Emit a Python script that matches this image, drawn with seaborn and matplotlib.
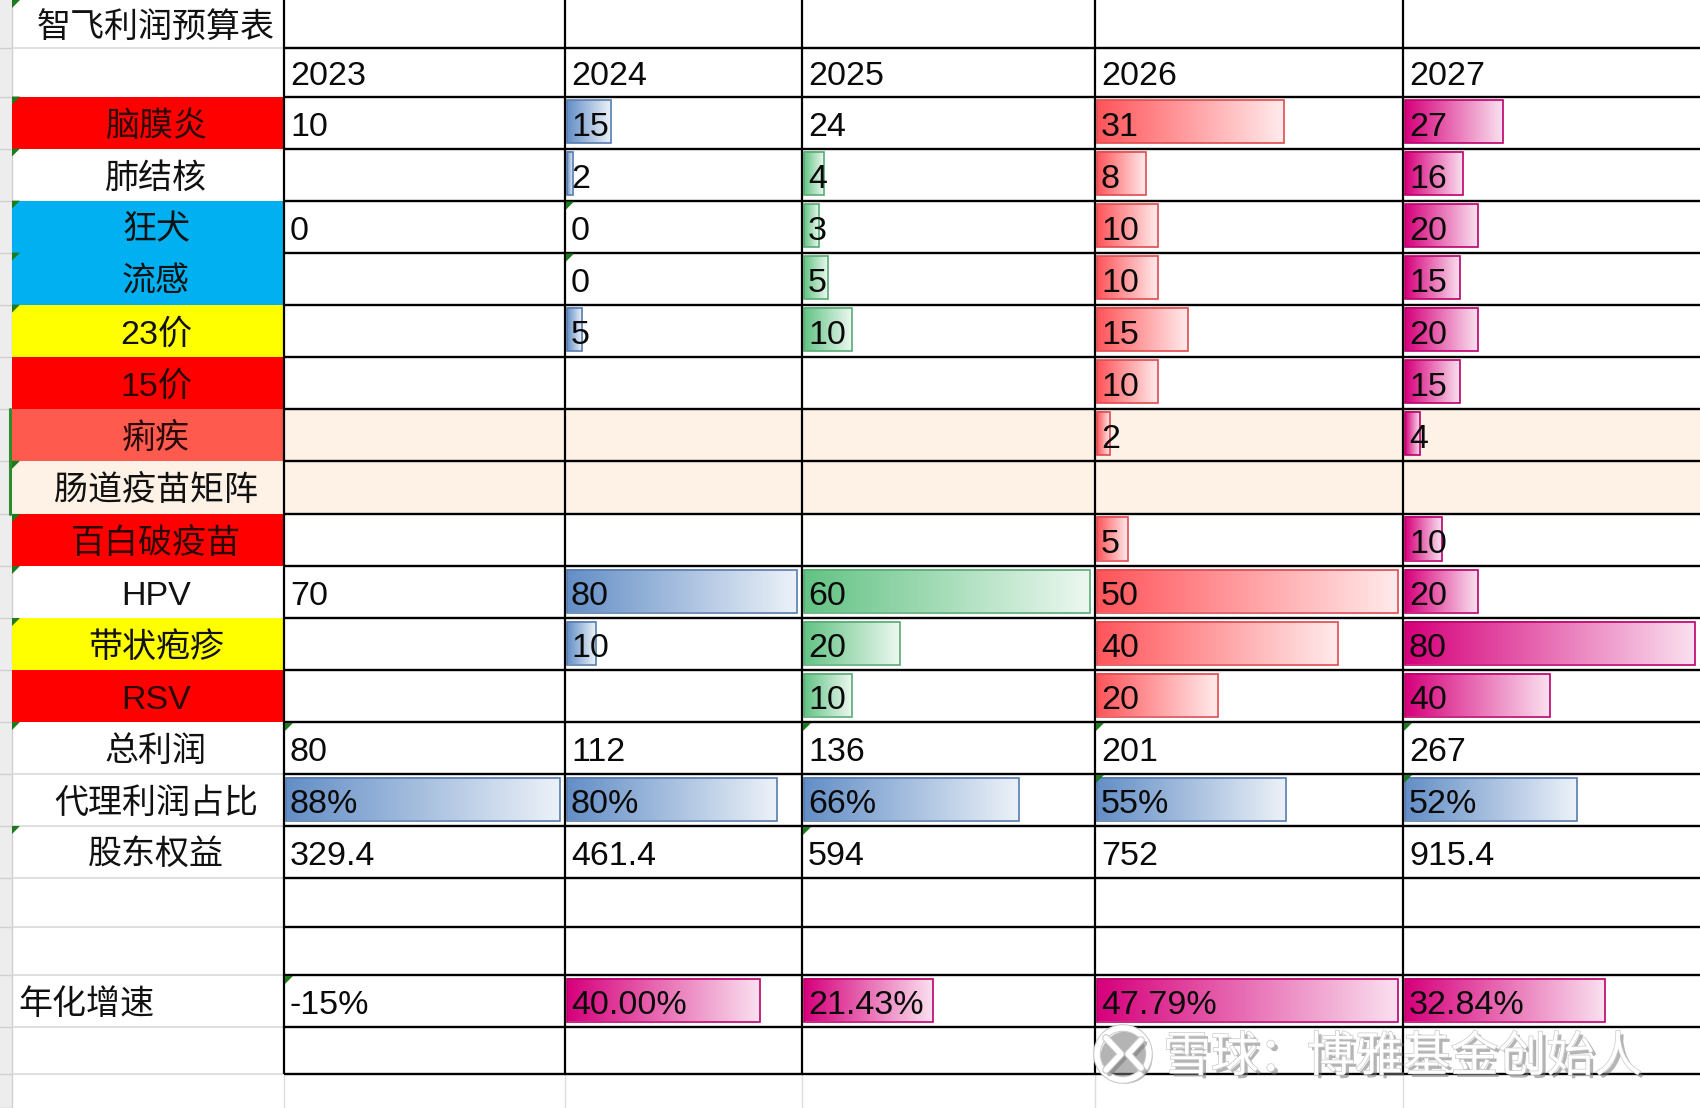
import numpy as np
import matplotlib.pyplot as plt
import matplotlib.patheffects as pe
from matplotlib.patches import Rectangle, Polygon, Circle
import matplotlib.colors as mcolors
import seaborn as sns

# ---- values ----
title = '智飞利润预算表'
years = ['2023', '2024', '2025', '2026', '2027']
products = ['脑膜炎', '肺结核', '狂犬', '流感', '23价', '15价', '痢疾',
            '肠道疫苗矩阵', '百白破疫苗', 'HPV', '带状疱疹', 'RSV']
profit_2023 = [10, None, 0, None, None, None, None, None, None, 70, None, None]
profit_2024 = [15, 2, 0, 0, 5, None, None, None, None, 80, 10, None]
profit_2025 = [24, 4, 3, 5, 10, None, None, None, None, 60, 20, 10]
profit_2026 = [31, 8, 10, 10, 15, 10, 2, None, 5, 50, 40, 20]
profit_2027 = [27, 16, 20, 15, 20, 15, 4, None, 10, 20, 80, 40]
total_profit = [80, 112, 136, 201, 267]
agency_share = [88, 80, 66, 55, 52]          # %
equity = [329.4, 461.4, 594, 752, 915.4]
growth = [-15, 40.00, 21.43, 47.79, 32.84]   # %
growth_text = ['-15%', '40.00%', '21.43%', '47.79%', '32.84%']

# ---- sheet layout (pixels) ----
W, H = 1700, 1108
col_edges = [12, 284, 565, 802, 1095, 1403, 1700]
row_edges = [0, 48, 96.5, 148.5, 200.6, 252.6, 304.6, 356.7, 408.7, 460.8,
             513.9, 566, 618, 670, 722, 774, 826, 878, 927, 975, 1027, 1074]
row_labels = [title, ''] + products + ['总利润', '代理利润占比', '股东权益', '', '', '年化增速', '']

RED, CYAN, YEL, CORAL, BEIGE = '#FF0000', '#00B0F0', '#FFFF00', '#FF5A4E', '#FDF2E5'
label_fill = {'脑膜炎': RED, '狂犬': CYAN, '流感': CYAN, '23价': YEL, '15价': RED,
              '痢疾': CORAL, '肠道疫苗矩阵': BEIGE, '百白破疫苗': RED,
              '带状疱疹': YEL, 'RSV': RED}
beige_rows = ['痢疾', '肠道疫苗矩阵']
bar_colors = [None, '#638EC6', '#63C384', '#FF555A', '#D6007B']
no_bar = {('2025', '脑膜炎')}

sns.set_theme(style='white')
plt.rcParams['font.family'] = ['Liberation Sans', 'Noto Sans CJK SC', 'DejaVu Sans']
FS = 24.5

fig = plt.figure(figsize=(17, 11.08), dpi=100)
ax = fig.add_axes([0, 0, 1, 1])
ax.set_axis_off()
grad = np.linspace(0, 1, 256).reshape(1, -1)


def mix(color, other, t):
    a = np.array(mcolors.to_rgb(color))
    b = np.array(mcolors.to_rgb(other))
    return tuple(a + (b - a) * t)


def data_bar(col, row, value, vmax, color):
    if value is None or value <= 0:
        return
    x0 = col_edges[col] + 2.5
    width = (col_edges[col + 1] - col_edges[col] - 7) * value / vmax
    y0 = row_edges[row] + 3.5
    y1 = row_edges[row + 1] - 5.5
    cmap = sns.blend_palette([color, mix(color, 'white', 0.88)], as_cmap=True)
    ax.imshow(grad, cmap=cmap, extent=(x0, x0 + width, y1, y0),
              aspect='auto', interpolation='bicubic', zorder=2)
    ax.add_patch(Rectangle((x0, y0), width, y1 - y0, fill=False,
                           ec=mix(color, 'black', 0.12), lw=1.2, zorder=3))


def cell_text(col, row, s, **kw):
    yb = (row_edges[row] + row_edges[row + 1]) / 2 + 13
    ax.text(col_edges[col] + 6, yb, s, fontsize=FS, ha='left', va='baseline',
            color='#0A0A0A', zorder=5, **kw)


# spreadsheet chrome: row header strip and light gridlines
ax.add_patch(Rectangle((0, 0), 12, H, fc='#EDEDED', ec='none', zorder=0))
ax.plot([12, 12], [0, H], color='#D0D0D0', lw=1, zorder=1)
for y in row_edges[1:] + [H]:
    ax.plot([0, 12], [y, y], color='#CFCFCF', lw=1, zorder=1)
for x in col_edges[1:6]:
    ax.plot([x, x], [row_edges[-1], H], color='#DDDDDD', lw=1, zorder=1)
n_rows = len(row_labels)
for i in range(1, n_rows + 1):
    above = label_fill.get(row_labels[i - 1])
    below = label_fill.get(row_labels[i]) if i < n_rows else None
    if above is None and below is None:
        ax.plot([12, col_edges[1]], [row_edges[i], row_edges[i]],
                color='#D9D9D9', lw=1.2, zorder=1)

# cell fills
for r, lab in enumerate(row_labels):
    top, bot = row_edges[r], row_edges[r + 1]
    if lab in label_fill:
        ax.add_patch(Rectangle((12, top), col_edges[1] - 12, bot - top,
                               fc=label_fill[lab], ec='none', zorder=1))
    if lab in beige_rows:
        ax.add_patch(Rectangle((col_edges[1], top), W - col_edges[1], bot - top,
                               fc=BEIGE, ec='none', zorder=1))
ax.plot([10, 10], [row_edges[8], row_edges[10]], color='#2E8B2E', lw=2.2, zorder=4)

# data bars
columns = [profit_2023, profit_2024, profit_2025, profit_2026, profit_2027]
for c, vals in enumerate(columns):
    color = bar_colors[c]
    if color is None:
        continue
    ranged = [v for p, v in zip(products, vals)
              if v is not None and (years[c], p) not in no_bar]
    vmax = max(ranged)
    for i, (p, v) in enumerate(zip(products, vals)):
        if (years[c], p) in no_bar:
            continue
        data_bar(c + 1, i + 2, v, vmax, color)

share_row = row_labels.index('代理利润占比')
growth_row = row_labels.index('年化增速')
for c in range(5):
    data_bar(c + 1, share_row, agency_share[c], max(agency_share), '#638EC6')
    if c > 0:
        data_bar(c + 1, growth_row, growth[c], max(growth[1:]), '#D6007B')

# black borders of the table body
for y in row_edges[1:]:
    ax.plot([col_edges[1], W], [y, y], color='black', lw=1.7, zorder=4,
            solid_capstyle='butt')
for x in col_edges[1:6]:
    ax.plot([x, x], [0, row_edges[-1]], color='black', lw=1.6, zorder=4,
            solid_capstyle='butt')

# row labels
for r, lab in enumerate(row_labels):
    if not lab:
        continue
    yb = (row_edges[r] + row_edges[r + 1]) / 2 + 13
    tc = '#2A0808' if label_fill.get(lab) in (RED, CORAL) else '#111111'
    if lab == '年化增速':
        ax.text(18, yb, lab, fontsize=FS, ha='left', va='baseline', color=tc, zorder=5)
    else:
        ax.text(156, yb, lab, fontsize=FS, ha='center', va='baseline', color=tc, zorder=5)

# cell values
for c, y in enumerate(years):
    cell_text(c + 1, 1, y)
    for i, v in enumerate(columns[c]):
        if v is not None:
            cell_text(c + 1, i + 2, f'{v:g}')
    cell_text(c + 1, row_labels.index('总利润'), f'{total_profit[c]:g}')
    cell_text(c + 1, share_row, f'{agency_share[c]}%')
    cell_text(c + 1, row_labels.index('股东权益'), f'{equity[c]:g}')
    cell_text(c + 1, growth_row, growth_text[c])

# green error-indicator triangles
label_marks = [0, 2, 3, 4, 5, 6, 9, 10, 11, 12, 14, 16]
data_marks = [(2, 4), (2, 5), (1, 14), (3, 14), (4, 14), (5, 14),
              (4, 15), (5, 15), (3, 16), (1, 19)]
for r in label_marks:
    x0, y0 = 12, row_edges[r]
    ax.add_patch(Polygon([(x0, y0), (x0 + 8, y0), (x0, y0 + 8)],
                         fc='#1F7A1F', ec='none', zorder=6))
for c, r in data_marks:
    x0, y0 = col_edges[c] + 1, row_edges[r] + 1
    ax.add_patch(Polygon([(x0, y0), (x0 + 8, y0), (x0, y0 + 8)],
                         fc='#1F7A1F', ec='none', zorder=6))

# watermark
shadow = [pe.SimplePatchShadow(offset=(2.5, -2.5), shadow_rgbFace='#777777', alpha=0.55),
          pe.Stroke(linewidth=1.0, foreground='#C8C8C8'), pe.Normal()]
ax.text(1163, 1071, '雪球：博雅基金创始人', fontsize=34.5, color='white',
        ha='left', va='baseline', zorder=8, path_effects=shadow)
line_fx = [pe.SimpleLineShadow(offset=(2.5, -2.5), shadow_color='#777777', alpha=0.55),
           pe.Stroke(linewidth=5.5, foreground='#C8C8C8'), pe.Normal()]
ax.add_patch(Circle((1123, 1054), 26, fill=False, ec='white', lw=4, zorder=8,
                    path_effects=[pe.SimplePatchShadow(offset=(2.5, -2.5), shadow_rgbFace='#777777', alpha=0.55),
                                  pe.Stroke(linewidth=5.5, foreground='#C8C8C8'), pe.Normal()]))
ax.plot([1106, 1121, 1106], [1038, 1054, 1070], color='white', lw=4, zorder=8,
        path_effects=line_fx)
ax.plot([1141, 1128, 1141], [1040, 1054, 1068], color='white', lw=4, zorder=8,
        path_effects=line_fx)

ax.set_xlim(0, W)
ax.set_ylim(H, 0)
fig.savefig('out.png', dpi=100, facecolor='white')
